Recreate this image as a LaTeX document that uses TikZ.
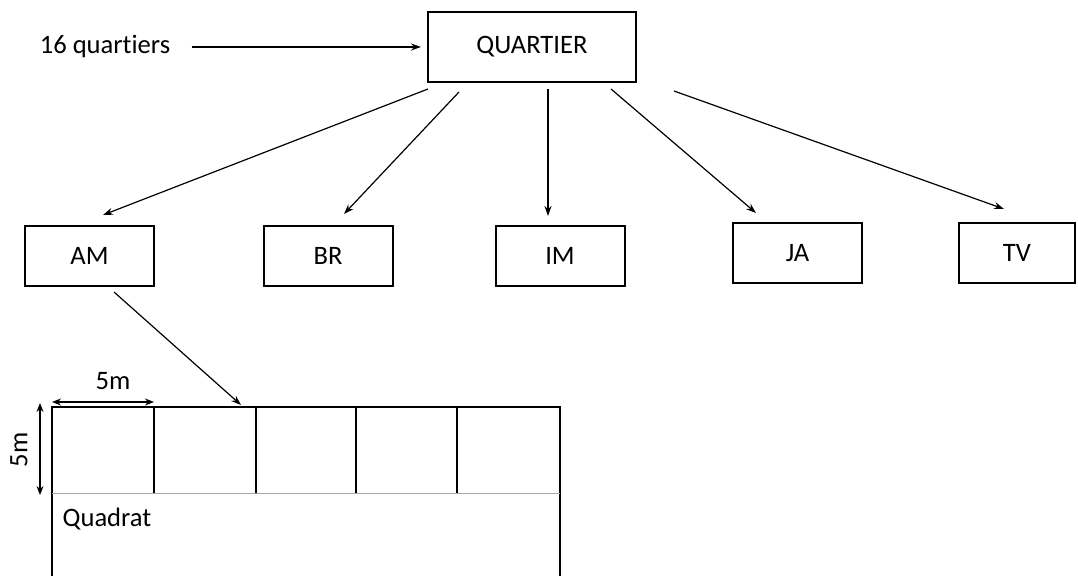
\documentclass[tikz,border=0pt]{standalone}
\usepackage{fontspec}
\setmainfont{Carlito}[Ligatures=NoCommon]
\usetikzlibrary{arrows.meta}
\begin{document}
\begin{tikzpicture}[x=0.5pt, y=-0.5pt,
    box/.style ={rectangle, draw, line width=1pt, minimum width=64.5pt, minimum height=30pt,
                 inner sep=0pt, font=\fontsize{13.3}{16}\selectfont},
    label/.style ={inner sep=0pt, font=\fontsize{13.3}{16}\selectfont},
    link/.style ={-{Stealth[length=5pt,width=3.5pt]}, line width=0.6pt},
    size/.style ={{Stealth[length=4.5pt,width=3.5pt]}-{Stealth[length=4.5pt,width=3.5pt]}, line width=0.6pt}]
   \useasboundingbox (0,0) rectangle (1078,576);
   \clip (0,0) rectangle (1078,576);

   \node[box, minimum width=104pt, minimum height=35pt] (Q) at (532,47) {QUARTIER};
   \node[label] (N)  at (105,47)    {16 quartiers};
   \node[box] (AM) at (89.5,256)  {AM};
   \node[box] (BR) at (328,256)   {BR};
   \node[box] (IM) at (560,256)   {IM};
   \node[box] (JA) at (797.5,253) {JA};
   \node[box, minimum width=58pt] (TV) at (1017,253) {TV};

   \coordinate (q1) at (428,89);  \coordinate (am1) at (103,215);
   \coordinate (q2) at (459,92);  \coordinate (br1) at (344,214);
   \coordinate (q3) at (548,89);  \coordinate (im1) at (548,216);
   \coordinate (q4) at (611,89);  \coordinate (ja1) at (756,213);
   \coordinate (q5) at (674,91);  \coordinate (tv1) at (1004,209);
   \coordinate (am2) at (114,292); \coordinate (P) at (241,405);

   \draw[link, line width=1pt, shorten <=10.5pt, shorten >=3pt] (N.east) to (N.east -| Q.west);
   \draw[link] (q1) to (am1);
   \draw[link] (q2) to (br1);
   \draw[link, line width=1pt] (q3) to (im1);
   \draw[link] (q4) to (ja1);
   \draw[link] (q5) to (tv1);
   \draw[link] (am2) to (P);

   % quadrats
   \draw[line width=1pt] (52,600) -- (52,407) -- (560,407) -- (560,600);
   \foreach \x in {154,256,356,457}
     \draw[line width=1pt] (\x,407) -- (\x,494);
   \draw[gray!70, line width=0.5pt] (52,494) -- (560,494);

   \draw[size] (52,402) -- (154,402);
   \node[label] (h) at (113,381) {5m};
   \draw[size] (40,403) -- (40,495);
   \node[label, rotate=90] (v) at (19,450) {5m};
   \node[label] (D) at (107,519) {Quadrat};

 \end{tikzpicture}
\end{document}
